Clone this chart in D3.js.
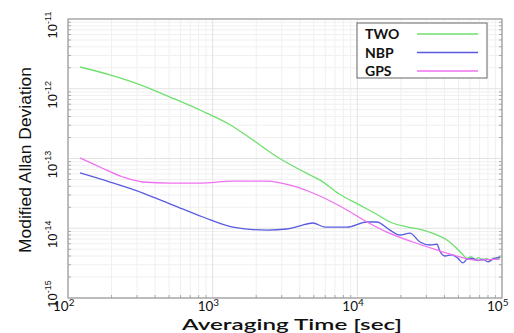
<!DOCTYPE html>
<html>
<head>
<meta charset="utf-8">
<script src="https://cdn.jsdelivr.net/npm/d3@7"></script>
<style>
  html, body { margin: 0; padding: 0; background: #fff; }
  svg { display: block; }
</style>
</head>
<body>
<svg id="chart" width="514" height="333"></svg>
<script>
// Modified Allan deviation of three time-transfer links
const seriesNames = ["TWO", "NBP", "GPS"];
const seriesColors = ["#6ee06e", "#5a5ae0", "#f070f0"];

const twoTau  = [121, 195, 330, 507, 816, 1300, 1811, 2800, 4700, 5520, 7500, 10400, 13500, 16800, 22000, 28400, 35000, 41600, 48000, 53000, 57200, 61000, 65000, 69000, 73700, 78000, 83000, 88000, 93000, 98000];
const twoDev  = [2.05e-12, 1.58e-12, 1.1e-12, 7.6e-13, 4.96e-13, 3.1e-13, 1.97e-13, 1.05e-13, 5.8e-14, 4.9e-14, 3.1e-14, 2.15e-14, 1.6e-14, 1.23e-14, 1.05e-14, 9.4e-15, 8.1e-15, 6.8e-15, 5.3e-15, 4.3e-15, 3.7e-15, 3.9e-15, 3.5e-15, 3.8e-15, 3.45e-15, 3.7e-15, 3.5e-15, 3.75e-15, 3.6e-15, 3.9e-15];

const nbpTau  = [121, 195, 330, 532, 857, 1380, 2370, 3260, 4010, 4930, 5970, 8470, 11650, 13600, 16800, 19700, 23100, 27100, 31800, 35500, 37200, 40300, 45000, 49600, 53700, 57200, 63000, 68100, 73700, 79900, 86500, 96700];
const nbpDev  = [6.2e-14, 4.6e-14, 3.2e-14, 2.15e-14, 1.45e-14, 1.04e-14, 9.4e-15, 9.75e-15, 1.08e-14, 1.19e-14, 1.04e-14, 1.04e-14, 1.23e-14, 1.23e-14, 9.4e-15, 8.0e-15, 8.5e-15, 6.35e-15, 5.75e-15, 5.9e-15, 4.7e-15, 4.0e-15, 4.15e-15, 3.7e-15, 3.18e-15, 3.6e-15, 3.7e-15, 3.45e-15, 3.6e-15, 3.3e-15, 3.6e-15, 3.9e-15];

const gpsTau  = [121, 166, 240, 330, 507, 817, 1380, 2370, 3590, 4930, 8470, 11650, 16000, 24200, 35500, 48800, 65000, 80000, 96700];
const gpsDev  = [1.02e-13, 7.55e-14, 5.43e-14, 4.6e-14, 4.45e-14, 4.45e-14, 4.75e-14, 4.75e-14, 4.04e-14, 3.2e-14, 1.83e-14, 1.23e-14, 8.8e-15, 6.35e-15, 4.88e-15, 4.0e-15, 3.5e-15, 3.55e-15, 3.6e-15];

const xTickExps = [2, 3, 4, 5];
const yTickExps = [-11, -12, -13, -14, -15];

const xTitle = "Averaging Time [sec]";
const yTitle = "Modified Allan Deviation";

const series = [
  { name: seriesNames[0], color: seriesColors[0], tau: twoTau, dev: twoDev },
  { name: seriesNames[1], color: seriesColors[1], tau: nbpTau, dev: nbpDev },
  { name: seriesNames[2], color: seriesColors[2], tau: gpsTau, dev: gpsDev }
];

const svg = d3.select("#chart");
const m = { left: 68, right: 502, top: 19, bottom: 298 };

const x = d3.scaleLog().domain([1e2, 1e5]).range([m.left, m.right]);
const y = d3.scaleLog().domain([1e-15, 1e-11]).range([m.bottom, m.top]);

// grid: minor then major
const g = svg.append("g");
const xMinor = [], yMinor = [];
for (let e = 2; e < 5; e++) for (let k = 2; k <= 9; k++) xMinor.push(k * Math.pow(10, e));
for (let e = -15; e < -11; e++) for (let k = 2; k <= 9; k++) yMinor.push(k * Math.pow(10, e));

g.selectAll(".xm").data(xMinor).join("line")
  .attr("x1", d => x(d)).attr("x2", d => x(d))
  .attr("y1", m.top).attr("y2", m.bottom)
  .attr("stroke", "#f0f0f0").attr("stroke-width", 1);
g.selectAll(".ym").data(yMinor).join("line")
  .attr("x1", m.left).attr("x2", m.right)
  .attr("y1", d => y(d)).attr("y2", d => y(d))
  .attr("stroke", "#f0f0f0").attr("stroke-width", 1);
g.selectAll(".xM").data(xTickExps).join("line")
  .attr("x1", d => x(Math.pow(10, d))).attr("x2", d => x(Math.pow(10, d)))
  .attr("y1", m.top).attr("y2", m.bottom)
  .attr("stroke", "#e2e2e2").attr("stroke-width", 1);
g.selectAll(".yM").data(yTickExps).join("line")
  .attr("x1", m.left).attr("x2", m.right)
  .attr("y1", d => y(Math.pow(10, d))).attr("y2", d => y(Math.pow(10, d)))
  .attr("stroke", "#e2e2e2").attr("stroke-width", 1);

// small inward ticks along the frame
g.selectAll(".ytl").data(yMinor).join("line")
  .attr("x1", m.left).attr("x2", m.left + 3)
  .attr("y1", d => y(d)).attr("y2", d => y(d))
  .attr("stroke", "#aaa");
g.selectAll(".ytr").data(yMinor).join("line")
  .attr("x1", m.right).attr("x2", m.right - 3)
  .attr("y1", d => y(d)).attr("y2", d => y(d))
  .attr("stroke", "#aaa");
g.selectAll(".xtb").data(xMinor).join("line")
  .attr("x1", d => x(d)).attr("x2", d => x(d))
  .attr("y1", m.bottom).attr("y2", m.bottom - 3)
  .attr("stroke", "#aaa");

// frame
svg.append("rect")
  .attr("x", m.left).attr("y", m.top)
  .attr("width", m.right - m.left).attr("height", m.bottom - m.top)
  .attr("fill", "none").attr("stroke", "#9a9a9a").attr("stroke-width", 1.2);

// curves
const line = d3.line()
  .x(d => x(d[0])).y(d => y(d[1]))
  .curve(d3.curveMonotoneX);

series.forEach(s => {
  const pts = s.tau.map((t, i) => [t, s.dev[i]]);
  svg.append("path")
    .attr("d", line(pts))
    .attr("fill", "none")
    .attr("stroke", s.color)
    .attr("stroke-width", 1.3);
});

// x tick labels
const xl = svg.append("g").attr("font-family", "Lato, 'Open Sans', sans-serif").attr("fill", "#111");
xTickExps.forEach(e => {
  const t = xl.append("text")
    .attr("x", x(Math.pow(10, e)) - 15).attr("y", 311)
    .attr("font-size", 13.5);
  t.append("tspan").text("10");
  t.append("tspan").attr("font-size", 10).attr("dy", -5).text(String(e));
});

// y tick labels (rotated)
const yl = svg.append("g").attr("font-family", "'Liberation Sans', Arial, sans-serif").attr("fill", "#111");
yTickExps.forEach(e => {
  const cy = Math.min(y(Math.pow(10, e)) + 6, 294);
  const t = yl.append("text")
    .attr("transform", `translate(57,${cy}) rotate(-90)`)
    .attr("text-anchor", "middle")
    .attr("font-size", 13);
  t.append("tspan").text("10");
  t.append("tspan").attr("font-size", 9).attr("dy", -6).text(String(e));
});

// axis titles
svg.append("text")
  .attr("x", 292).attr("y", 330)
  .attr("text-anchor", "middle")
  .attr("font-family", "Lato, 'Open Sans', sans-serif")
  .attr("font-size", 15.5).attr("font-weight", 600)
  .attr("textLength", 220).attr("lengthAdjust", "spacingAndGlyphs")
  .attr("fill", "#111")
  .text(xTitle);

svg.append("text")
  .attr("transform", "translate(31,160) rotate(-90)")
  .attr("text-anchor", "middle")
  .attr("font-family", "'Liberation Sans', Arial, sans-serif")
  .attr("font-size", 16)
  .attr("textLength", 186).attr("lengthAdjust", "spacingAndGlyphs")
  .attr("fill", "#111")
  .text(yTitle);

// legend
const lg = svg.append("g");
lg.append("rect")
  .attr("x", 357).attr("y", 23).attr("width", 130).attr("height", 55)
  .attr("fill", "#fff").attr("stroke", "#666").attr("stroke-width", 1);
series.forEach((s, i) => {
  const ly = 34 + i * 18.5;
  lg.append("text")
    .attr("x", 365).attr("y", ly + 5)
    .attr("font-family", "Lato, 'Open Sans', sans-serif")
    .attr("font-size", 14).attr("font-weight", 700)
    .attr("fill", "#111")
    .text(s.name);
  lg.append("line")
    .attr("x1", 417).attr("x2", 478)
    .attr("y1", ly).attr("y2", ly)
    .attr("stroke", s.color).attr("stroke-width", 1.5);
});
</script>
</body>
</html>
